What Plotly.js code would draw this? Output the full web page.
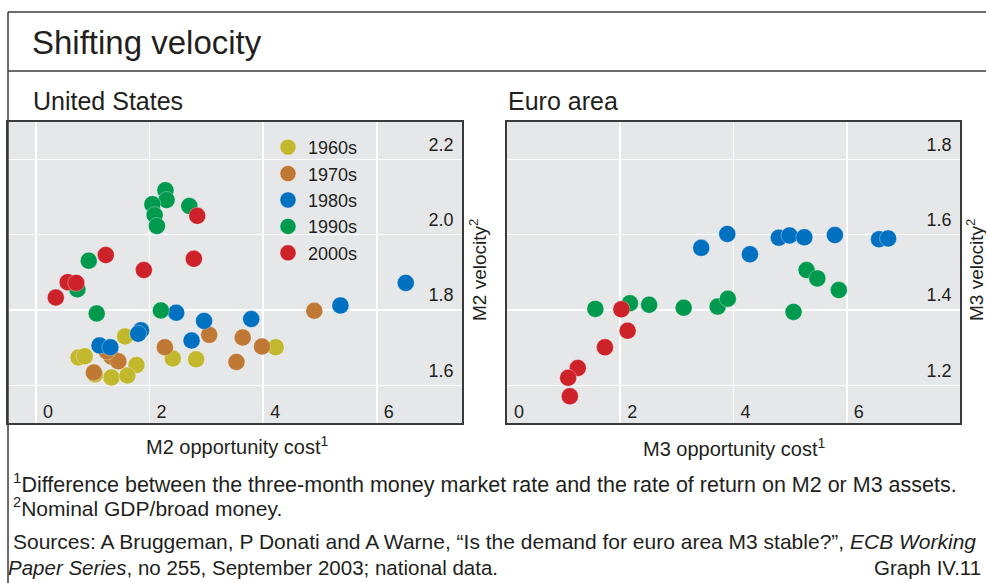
<!DOCTYPE html>
<html>
<head>
<meta charset="utf-8">
<script src="https://cdn.plot.ly/plotly-3.0.1.min.js"></script>
<style>html,body{margin:0;padding:0;background:#fff;}#chart{width:986px;height:583px;}</style>
</head>
<body>
<div id="chart"></div>
<script>
// ---- Data ----
const decades = ["1960s", "1970s", "1980s", "1990s", "2000s"];
const decadeColors = ["#c2b82e", "#bf7934", "#0070c0", "#009a4e", "#cd2229"];

// United States: M2 opportunity cost (x) vs M2 velocity (y)
const us1960x = [1.57, 0.75, 0.86, 1.77, 1.33, 1.61, 1.04, 2.41, 2.82, 4.22];
const us1960y = [1.730, 1.674, 1.677, 1.654, 1.621, 1.626, 1.629, 1.671, 1.669, 1.701];
const us1970x = [1.02, 1.33, 1.45, 1.25, 2.27, 3.05, 3.64, 3.53, 3.98, 4.90];
const us1970y = [1.634, 1.676, 1.664, 1.690, 1.701, 1.734, 1.727, 1.662, 1.703, 1.798];
const us1980x = [2.47, 2.96, 2.74, 1.85, 1.80, 1.12, 1.31, 3.79, 5.36, 6.51];
const us1980y = [1.793, 1.771, 1.719, 1.746, 1.737, 1.706, 1.701, 1.776, 1.812, 1.872];
const us1990x = [2.28, 2.30, 2.05, 2.09, 2.13, 2.70, 0.93, 0.73, 1.07, 2.20];
const us1990y = [2.118, 2.092, 2.081, 2.052, 2.023, 2.076, 1.931, 1.855, 1.791, 1.799];
const us2000x = [2.84, 1.23, 2.78, 1.90, 0.56, 0.71, 0.35];
const us2000y = [2.050, 1.946, 1.936, 1.906, 1.874, 1.872, 1.833];

// Euro area: M3 opportunity cost (x) vs M3 velocity (y)
const ea1980x = [3.43, 3.89, 4.29, 4.80, 4.99, 5.25, 5.79, 6.57, 6.73];
const ea1980y = [1.565, 1.602, 1.548, 1.592, 1.598, 1.593, 1.599, 1.588, 1.590];
const ea1990x = [1.56, 2.17, 2.51, 3.12, 3.72, 3.90, 5.06, 5.29, 5.48, 5.86];
const ea1990y = [1.403, 1.418, 1.414, 1.406, 1.409, 1.430, 1.395, 1.506, 1.484, 1.453];
const ea2000x = [2.02, 2.13, 1.73, 1.25, 1.08, 1.11];
const ea2000y = [1.402, 1.345, 1.301, 1.246, 1.220, 1.171];

// Tick values / labels
const usXTicks = [0, 2, 4, 6];
const usYTicks = [1.6, 1.8, 2.0, 2.2];
const eaXTicks = [0, 2, 4, 6];
const eaYTicks = [1.2, 1.4, 1.6, 1.8];

// ---- Build ----
const W = 986, H = 583;
const px = v => v / W;
const py = v => 1 - v / H;
const FONT = "Liberation Sans, Arial, sans-serif";
const TXT = "#231f20";

function mk(x, y, i, xa, ya, legend) {
  return {
    type: "scatter", mode: "markers", x: x, y: y, name: decades[i],
    xaxis: xa, yaxis: ya, showlegend: legend, hoverinfo: "skip",
    marker: { size: 17, color: decadeColors[i], line: { width: 0.6, color: "rgba(255,255,255,0.55)" } }
  };
}

const traces = [
  mk(us1960x, us1960y, 0, "x", "y", true),
  mk(us1970x, us1970y, 1, "x", "y", true),
  mk(us1980x, us1980y, 2, "x", "y", true),
  mk(us1990x, us1990y, 3, "x", "y", true),
  mk(us2000x, us2000y, 4, "x", "y", true),
  mk(ea1980x, ea1980y, 2, "x2", "y2", false),
  mk(ea1990x, ea1990y, 3, "x2", "y2", false),
  mk(ea2000x, ea2000y, 4, "x2", "y2", false)
];

const axCommon = {
  showgrid: true, gridcolor: "#ffffff", gridwidth: 1.6,
  showline: true, mirror: true, linecolor: "#3a3a3a", linewidth: 1.6,
  zeroline: false, ticks: "", fixedrange: true,
  ticklabelposition: "inside",
  tickfont: { family: FONT, size: 18, color: TXT }
};

const layout = {
  width: W, height: H,
  margin: { l: 0, r: 0, t: 0, b: 0, pad: 0 },
  paper_bgcolor: "#ffffff", plot_bgcolor: "#e6e7e9",
  font: { family: FONT, color: TXT },
  showlegend: true,
  legend: {
    x: px(268), y: py(129), xanchor: "left", yanchor: "top",
    bgcolor: "rgba(0,0,0,0)", borderwidth: 0,
    font: { family: FONT, size: 18, color: TXT },
    itemclick: false, itemdoubleclick: false
  },
  xaxis: Object.assign({}, axCommon, {
    domain: [px(7.5), px(462)], range: [-0.5, 7.5], anchor: "y",
    tickvals: usXTicks, ticklabelshift: 12, ticklabelstandoff: 2
  }),
  yaxis: Object.assign({}, axCommon, {
    domain: [py(423), py(121.7)], range: [1.5, 2.3], anchor: "x", side: "right",
    tickvals: usYTicks, tickformat: ".1f", ticklabelshift: -15, ticklabelstandoff: 9
  }),
  xaxis2: Object.assign({}, axCommon, {
    domain: [px(507), px(960)], range: [0, 8], anchor: "y2",
    tickvals: eaXTicks, ticklabelshift: 12, ticklabelstandoff: 2
  }),
  yaxis2: Object.assign({}, axCommon, {
    domain: [py(423), py(121.7)], range: [1.1, 1.9], anchor: "x2", side: "right",
    tickvals: eaYTicks, tickformat: ".1f", ticklabelshift: -15, ticklabelstandoff: 9
  }),
  shapes: [
    { type: "line", xref: "paper", yref: "paper", x0: px(8), x1: px(990), y0: py(12), y1: py(12), line: { color: "#3a3a3a", width: 1.5 } },
    { type: "line", xref: "paper", yref: "paper", x0: px(8), x1: px(990), y0: py(71), y1: py(71), line: { color: "#3a3a3a", width: 1.5 } },
    { type: "line", xref: "paper", yref: "paper", x0: px(8), x1: px(8), y0: py(12), y1: py(590), line: { color: "#3a3a3a", width: 1.5 } }
  ],
  annotations: [
    { text: "Shifting velocity", x: px(30), y: py(43), xanchor: "left", yanchor: "middle", font: { size: 33 } },
    { text: "United States", x: px(31), y: py(101), xanchor: "left", yanchor: "middle", font: { size: 25 } },
    { text: "Euro area", x: px(506), y: py(101), xanchor: "left", yanchor: "middle", font: { size: 25 } },
    { text: "M2 opportunity cost<sup>1</sup>", x: px(237), y: py(445), xanchor: "center", yanchor: "middle", font: { size: 20 } },
    { text: "M3 opportunity cost<sup>1</sup>", x: px(734), y: py(447), xanchor: "center", yanchor: "middle", font: { size: 20 } },
    { text: "M2 velocity<sup>2</sup>", x: px(478), y: py(270), xanchor: "center", yanchor: "middle", textangle: -90, font: { size: 19 } },
    { text: "M3 velocity<sup>2</sup>", x: px(975), y: py(270), xanchor: "center", yanchor: "middle", textangle: -90, font: { size: 19 } },
    { text: "<sup>1</sup>Difference between the three-month money market rate and the rate of return on M2 or M3 assets.", x: px(11), y: py(483), xanchor: "left", yanchor: "middle", font: { size: 21.5 } },
    { text: "<sup>2</sup>Nominal GDP/broad money.", x: px(11), y: py(507), xanchor: "left", yanchor: "middle", font: { size: 21 } },
    { text: "Sources: A Bruggeman, P Donati and A Warne, “Is the demand for euro area M3 stable?”, <i>ECB Working</i>", x: px(11), y: py(541), xanchor: "left", yanchor: "middle", font: { size: 21 } },
    { text: "<i>Paper Series</i>, no 255, September 2003; national data.", x: px(6), y: py(567), xanchor: "left", yanchor: "middle", font: { size: 20.5 } },
    { text: "Graph IV.11", x: px(983), y: py(567), xanchor: "right", yanchor: "middle", font: { size: 20.5 } }
  ].map(a => Object.assign({ xref: "paper", yref: "paper", showarrow: false }, a, { font: Object.assign({ family: FONT, color: TXT }, a.font) }))
};

Plotly.newPlot("chart", traces, layout, { staticPlot: true, displayModeBar: false });
</script>
</body>
</html>
